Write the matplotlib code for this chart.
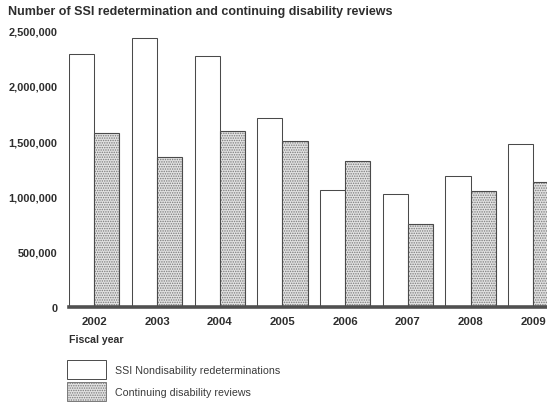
import matplotlib.pyplot as plt
import numpy as np
from matplotlib.patches import Patch

plt.rcParams['font.family'] = ['Liberation Sans', 'DejaVu Sans']
plt.rcParams['hatch.linewidth'] = 0.7

years = ['2002', '2003', '2004', '2005', '2006', '2007', '2008', '2009']
redeterminations = [2290000, 2430000, 2265000, 1712000, 1057000, 1023000, 1183000, 1470000]
cdrs = [1572000, 1358000, 1592000, 1500000, 1320000, 750000, 1051000, 1132000]

title = 'Number of SSI redetermination and continuing disability reviews'
label_redet = 'SSI Nondisability redeterminations'
label_cdr = 'Continuing disability reviews'

text_dark = '#2e2e2e'
edge = '#4a4a4a'
stipple_face = '#e2e2e2'
stipple_dots = '#7a7a7a'

fig = plt.figure(figsize=(5.47, 4.06), dpi=100)
ax = fig.add_axes([69.3 / 547, 1 - 308 / 406, 1 - 69.3 / 547, (308 - 31.5) / 406])

x = np.arange(len(years))
w = 0.40

ax.bar(x - w / 2, redeterminations, width=w, facecolor='white', edgecolor=edge, linewidth=0.75, zorder=2)
# stippled fill first, then a plain outline on top
ax.bar(x + w / 2, cdrs, width=w, facecolor=stipple_face, edgecolor=stipple_dots, linewidth=0,
       hatch='.......', zorder=2)
ax.bar(x + w / 2, cdrs, width=w, facecolor='none', edgecolor=edge, linewidth=0.8, zorder=3)

ax.axhline(0, color='#505050', linewidth=2.6, zorder=4, clip_on=False)

ax.set_xlim(-0.4, (547 - 94.3) / 62.7)
ax.set_ylim(0, 2500000)
ax.set_yticks(np.arange(0, 2500001, 500000))
ax.set_yticklabels([f'{v:,}' for v in range(0, 2500001, 500000)])
ax.set_xticks(x)
ax.set_xticklabels(years)
ax.tick_params(axis='y', length=0, labelsize=7.9, colors=text_dark, pad=8.6)
ax.tick_params(axis='x', length=0, labelsize=8.2, colors=text_dark, pad=6.3)
for lab in ax.get_xticklabels() + ax.get_yticklabels():
    lab.set_fontweight('bold')

for side in ['top', 'right', 'left', 'bottom']:
    ax.spines[side].set_visible(False)

fig.text(8 / 547, 1 - 12 / 406, title, fontsize=9.0, fontweight='bold', color=text_dark,
         ha='left', va='center')
fig.text(69 / 547, 1 - 340 / 406, 'Fiscal year', fontsize=7.6, fontweight='bold', color=text_dark,
         ha='left', va='center')

handles = [
    Patch(facecolor='white', edgecolor=edge, linewidth=0.7, label=label_redet),
    Patch(facecolor=stipple_face, edgecolor=stipple_dots, linewidth=0.7, hatch='.......', label=label_cdr),
]
fig.legend(handles=handles, loc='upper left', bbox_to_anchor=(67 / 547, 1 - 361 / 406),
           frameon=False, fontsize=7.7, handlelength=3.6, handleheight=2.4,
           labelspacing=0.25, handletextpad=0.85, borderpad=0, borderaxespad=0,
           labelcolor='#3a3a3a')

fig.savefig('out.png', dpi=100)
